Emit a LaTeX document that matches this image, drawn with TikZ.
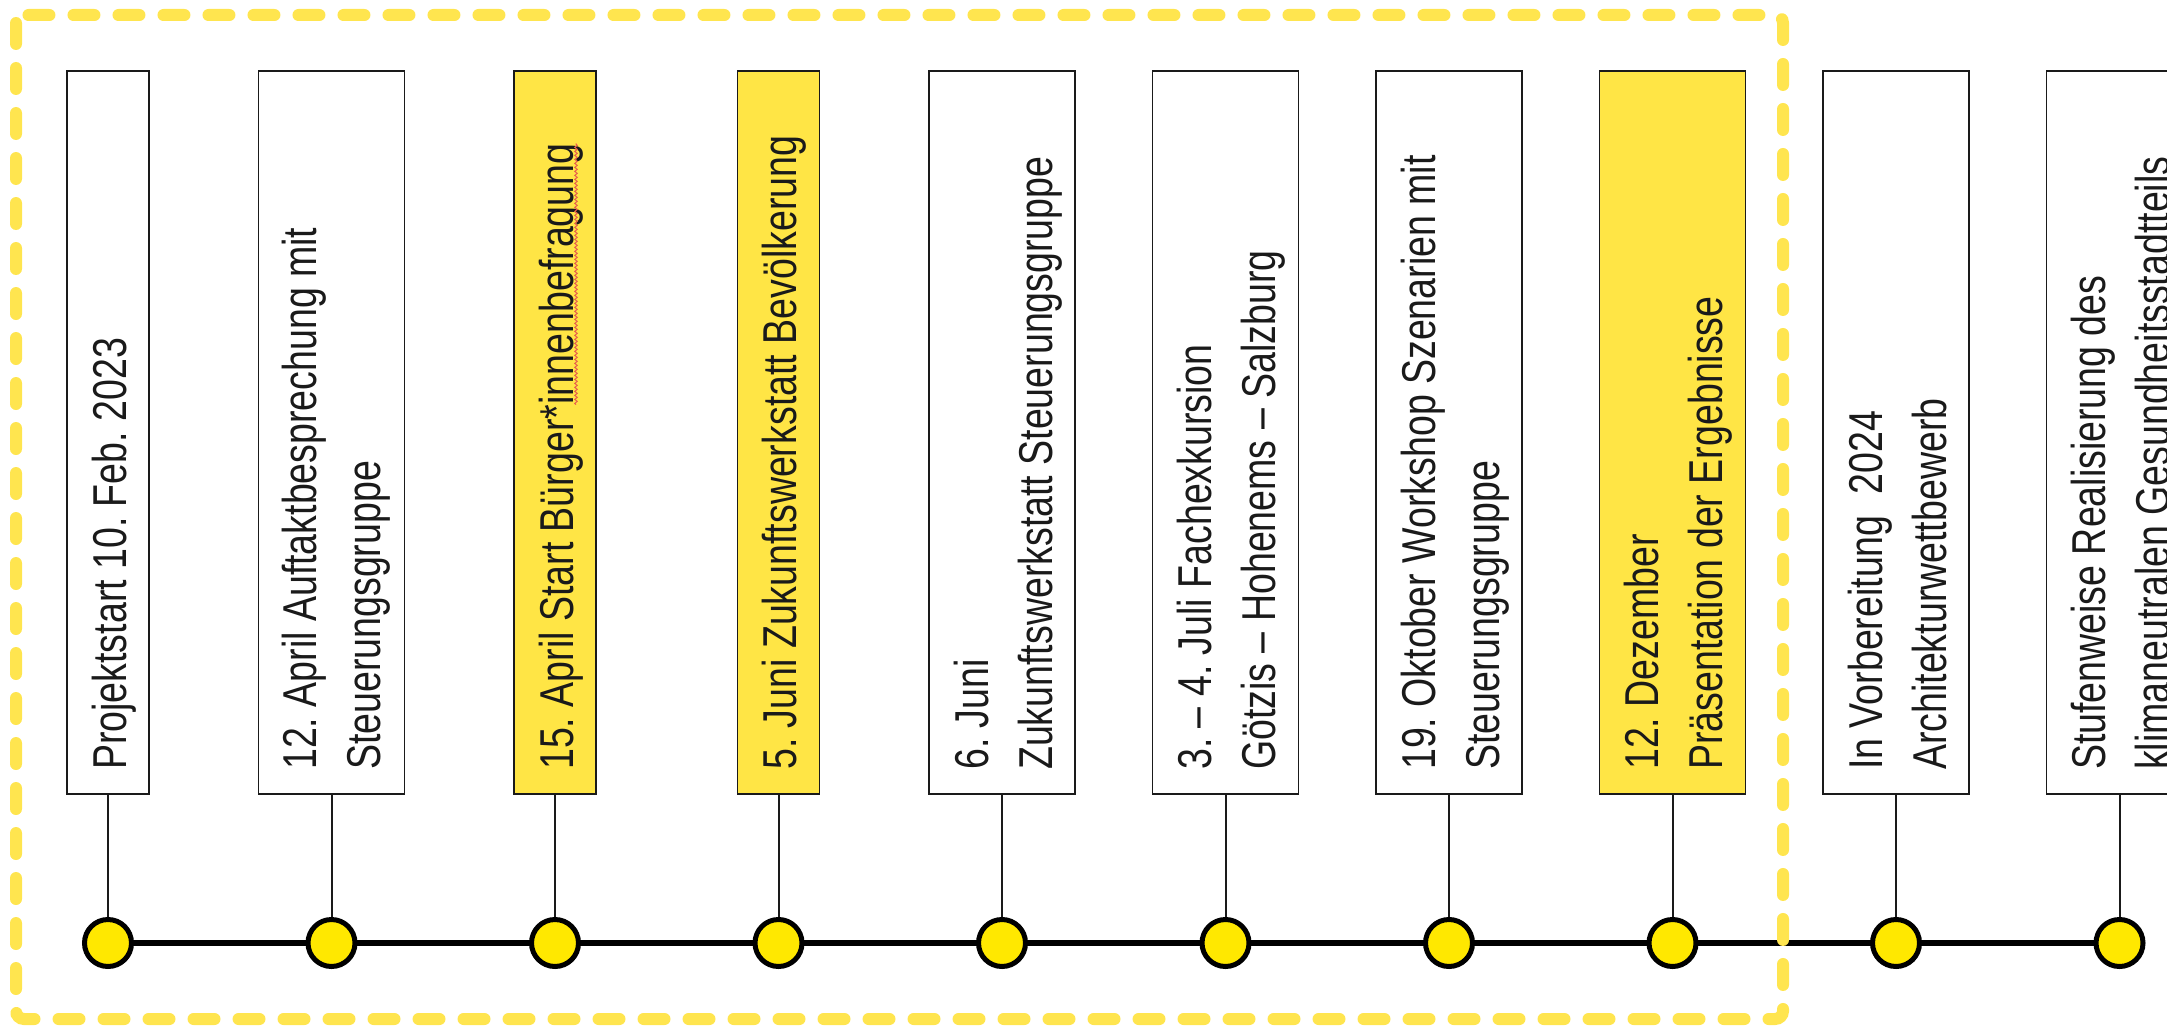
\documentclass[tikz,border=0pt]{standalone}
\usepackage{fontspec}
\setmainfont{Liberation Sans}[FakeStretch=0.79]
\usetikzlibrary{backgrounds,decorations.pathmorphing}
\definecolor{boxyellow}{HTML}{FFE545}
\definecolor{dotyellow}{HTML}{FFE800}
\definecolor{dashyellow}{HTML}{FFE54F}
\definecolor{wavered}{HTML}{E8604C}
\definecolor{ink}{HTML}{1A1A1A}
\frenchspacing
\begin{document}
\begin{tikzpicture}[x=1pt,y=-1pt,
  evbox/.style={draw=ink, line width=1.8pt, minimum height=723pt, inner sep=0pt, anchor=north, fill=white},
  narrowbox/.style={minimum width=82pt},
  widebox/.style={minimum width=146pt},
  hl/.style={fill=boxyellow},
  lbl/.style={rotate=90, anchor=base west, inner sep=0pt, text=ink, font=\fontsize{47.5}{57}\selectfont},
  dot/.style={circle, draw=black, line width=5pt, fill=dotyellow, minimum size=47pt, inner sep=0pt},
  conn/.style={draw=ink, line width=2pt},
  axis/.style={draw=black, line width=6.5pt},
  frame/.style={draw=dashyellow, line width=12pt, dash pattern=on 21pt off 24pt, line cap=round, rounded corners=8pt},
  spell/.style={draw=wavered, line width=1pt, decorate, decoration={snake, amplitude=1.2pt, segment length=4pt}}
]
\useasboundingbox (0,0) rectangle (2167,1030);
\clip (0,0) rectangle (2167,1030);

% boxes
\node[evbox, narrowbox] (b1) at (108,70) {};
\node[evbox, widebox] (b2) at (331.5,70) {};
\node[evbox, narrowbox, hl] (b3) at (555,70) {};
\node[evbox, narrowbox, hl] (b4) at (778.5,70) {};
\node[evbox, widebox] (b5) at (1002,70) {};
\node[evbox, widebox] (b6) at (1225.5,70) {};
\node[evbox, widebox] (b7) at (1449,70) {};
\node[evbox, widebox, hl] (b8) at (1672.5,70) {};
\node[evbox, widebox] (b9) at (1896,70) {};
\node[evbox, widebox] (b10) at (2119.5,70) {};

% labels
\node[lbl] (t1) at (126,770) {Projektstart 10. Feb. 2023};
\node[lbl] (t2a) at (316.5,770) {12. April Auftaktbesprechung mit};
\node[lbl] (t2b) at (380.5,770) {Steuerungsgruppe};
\node[lbl] (t3a) at (573,770) {15. April Start Bürger*};
\node[lbl] (t3b) at (t3a.base east) {innenbefragung};
\node[lbl] (t4) at (796.5,770) {5. Juni Zukunftswerkstatt Bevölkerung};
\node[lbl] (t5a) at (988,770) {6. Juni};
\node[lbl] (t5b) at (1052,770) {Zukunftswerkstatt Steuerungsgruppe};
\node[lbl] (t6a) at (1211.5,770) {3. – 4. Juli Fachexkursion};
\node[lbl] (t6b) at (1275.5,770) {Götzis – Hohenems – Salzburg};
\node[lbl] (t7a) at (1435,770) {19. Oktober Workshop Szenarien mit};
\node[lbl] (t7b) at (1499,770) {Steuerungsgruppe};
\node[lbl] (t8a) at (1658.5,770) {12. Dezember};
\node[lbl] (t8b) at (1722.5,770) {Präsentation der Ergebnisse};
\node[lbl] (t9a) at (1882,770) {In Vorbereitung\ \ 2024};
\node[lbl] (t9b) at (1946,770) {Architekturwettbewerb};
\node[lbl] (t10a) at (2105.5,770) {Stufenweise Realisierung des};
\node[lbl] (t10b) at (2169.5,770) {klimaneutralen Gesundheitsstadtteils};

% spell-check wave under "innenbefragung"
\draw[spell] ([xshift=3pt]t3b.base west) -- ([xshift=3pt]t3b.base east);

% timeline dots
\node[dot] (d1) at (108,943) {};
\node[dot] (d2) at (331.5,943) {};
\node[dot] (d3) at (555,943) {};
\node[dot] (d4) at (778.5,943) {};
\node[dot] (d5) at (1002,943) {};
\node[dot] (d6) at (1225.5,943) {};
\node[dot] (d7) at (1449,943) {};
\node[dot] (d8) at (1672.5,943) {};
\node[dot] (d9) at (1896,943) {};
\node[dot] (d10) at (2119.5,943) {};

\begin{scope}[on background layer]
  \draw[axis] (d1.center) -- (d10.center);
  \foreach \i in {1,...,10} {
    \draw[conn] (b\i.south) -- (d\i.center);
  }
\end{scope}

% dashed frame
\draw[frame] (16,15) rectangle (1783,1019);
\end{tikzpicture}
\end{document}
